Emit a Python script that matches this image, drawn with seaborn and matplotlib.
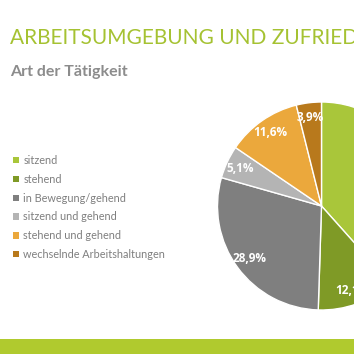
import matplotlib
matplotlib.use("Agg")
import numpy as np
import matplotlib.pyplot as plt
import seaborn as sns
from matplotlib.patches import Patch, Rectangle

# Daten
kategorien = [
    "sitzend",
    "stehend",
    "in Bewegung/gehend",
    "sitzend und gehend",
    "stehend und gehend",
    "wechselnde Arbeitshaltungen",
]
anteile = [38.4, 12.1, 28.9, 5.1, 11.6, 3.9]
beschriftungen = ["38,4%", "12,1%", "28,9%", "5,1%", "11,6%", "3,9%"]
farben = ["#a9c63a", "#7f9a26", "#7f7f7f", "#b4b4b4", "#eba83c", "#b8791c"]

titel = "ARBEITSUMGEBUNG UND ZUFRIEDENHEIT"
untertitel = "Art der Tätigkeit"

sns.set_theme(style="white")
plt.rcParams["font.family"] = ["Lato", "DejaVu Sans"]

fig = plt.figure(figsize=(3.54, 3.54), dpi=100)
fig.patch.set_facecolor("white")

# Kreisdiagramm (rechts angeschnitten)
ax = fig.add_axes([217.5 / 354, 44 / 354, 208 / 354, 208 / 354])
wedges, texts = ax.pie(
    anteile,
    colors=farben,
    startangle=90,
    counterclock=False,
    radius=1,
    wedgeprops={"edgecolor": "white", "linewidth": 1},
)
ax.set_xlim(-1, 1)
ax.set_ylim(-1, 1)
ax.set_aspect("equal")
ax.axis("off")

# Prozentwerte
for w, txt in zip(wedges, beschriftungen):
    mitte = np.deg2rad((w.theta1 + w.theta2) / 2)
    r = 0.86
    ax.text(r * np.cos(mitte), r * np.sin(mitte), txt, ha="center", va="center",
            color="white", fontsize=8.5, fontweight="bold", family=["Open Sans", "DejaVu Sans"])

# Titel
fig.text(10 / 354, 1 - 38 / 354, titel, color="#a5c232", fontsize=15,
         fontweight="normal", ha="left", va="center")
fig.text(10 / 354, 1 - 72 / 354, untertitel, color="#8c8c8c", fontsize=11.5,
         fontweight="bold", ha="left", va="center")

# Legende
handles = [Patch(facecolor=c, edgecolor="none") for c in farben]
fig.legend(handles, kategorien, loc="upper left", bbox_to_anchor=(13 / 354, 1 - 155 / 354),
           frameon=False, fontsize=7.8, handlelength=0.55, handleheight=0.55,
           handletextpad=0.4, labelspacing=0.72, labelcolor="#7f7f7f",
           borderaxespad=0, borderpad=0)

# gruener Balken unten
fig.patches.append(Rectangle((0, 0), 1, 15 / 354, transform=fig.transFigure,
                             facecolor="#b0ca2e", edgecolor="none"))

fig.savefig("out.png", dpi=100)
